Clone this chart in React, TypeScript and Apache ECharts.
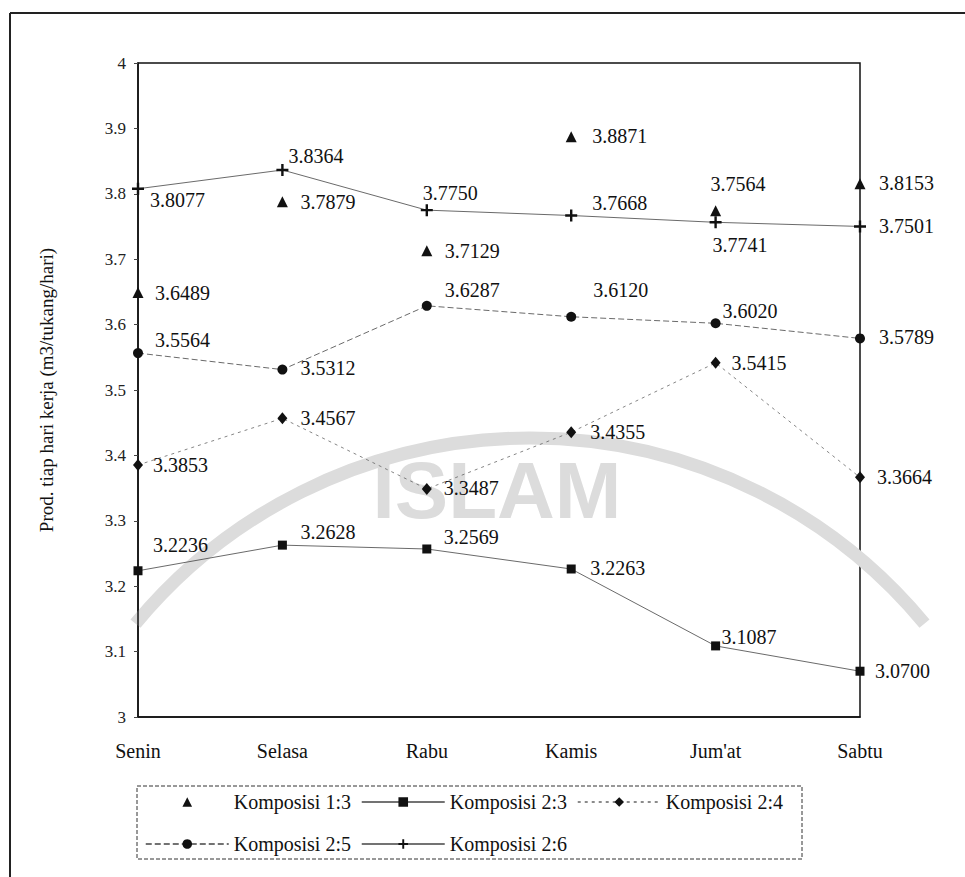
import React, { useEffect, useRef } from 'react';
import * as echarts from 'echarts';

const categories = ['Senin', 'Selasa', 'Rabu', 'Kamis', "Jum'at", 'Sabtu'];
const seriesNames = ['Komposisi 1:3', 'Komposisi 2:3', 'Komposisi 2:4', 'Komposisi 2:5', 'Komposisi 2:6'];
const komposisi13 = [3.6489, 3.7879, 3.7129, 3.8871, 3.7741, 3.8153];
const komposisi23 = [3.2236, 3.2628, 3.2569, 3.2263, 3.1087, 3.07];
const komposisi24 = [3.3853, 3.4567, 3.3487, 3.4355, 3.5415, 3.3664];
const komposisi25 = [3.5564, 3.5312, 3.6287, 3.612, 3.602, 3.5789];
const komposisi26 = [3.8077, 3.8364, 3.775, 3.7668, 3.7564, 3.7501];
const yMin = 3;
const yMax = 4;
const yInterval = 0.1;
const yTitle = 'Prod. tiap hari kerja (m3/tukang/hari)';

// label placement (layout only): [dx, dy] from the marker centre
const off13 = [[17, 0], [18, 0], [18, 0], [21, -1], [-3, 34], [19, -1]];
const off23 = [[15, -26], [18, -13], [17, -12], [19, -1], [6, -9], [15, 0]];
const off24 = [[15, 0], [18, 0], [17, -1], [19, 0], [16, 0], [17, 0]];
const off25 = [[17, -13], [18, -2], [18, -16], [22, -27], [7, -12], [19, -1]];
const off26 = [[12, 11], [6, -14], [-4, -17], [21, -13], [-5, -38], [19, 0]];

const FONT = "'Liberation Serif', serif";
const PLUS = 'path://M4,0H6V4H10V6H6V10H4V6H0V4H4Z';

function items(values: number[], offs: number[][]) {
  return values.map((v, i) => ({ value: v, label: { offset: offs[i] } }));
}

const baseLabel = {
  show: true,
  position: 'inside',
  align: 'left',
  verticalAlign: 'middle',
  fontFamily: FONT,
  fontSize: 20,
  fontWeight: 'normal',
  color: '#111',
  formatter: (p: any) => Number(p.value).toFixed(4),
};

export default function App() {
  const ref = useRef<HTMLDivElement>(null);
  useEffect(() => {
    if (!ref.current) return;
    const chart = echarts.init(ref.current, undefined, { renderer: 'svg' });
    const mk = (name: string, data: any[], symbol: string, size: any, line: any) => ({
      name,
      type: 'line',
      data,
      symbol,
      symbolSize: size,
      showAllSymbol: true,
      itemStyle: { color: '#111' },
      lineStyle: line,
      label: baseLabel,
      emphasis: { disabled: true },
      z: 3,
    });
    chart.setOption({
      animation: false,
      backgroundColor: '#fff',
      textStyle: { fontFamily: FONT },
      graphic: [
        {
          type: 'arc',
          z: 0,
          silent: true,
          shape: { cx: 530, cy: 950, r: 512, startAngle: Math.PI * 1.22, endAngle: Math.PI * 1.78, clockwise: true },
          style: { stroke: '#dcdcdc', lineWidth: 13, fill: null },
        },
        {
          type: 'text',
          z: 0,
          silent: true,
          x: 497,
          y: 490,
          style: {
            text: 'ISLAM',
            font: 'bold 80px sans-serif',
            fill: '#dcdcdc',
            align: 'center',
            verticalAlign: 'middle',
          },
        },
        {
          type: 'line',
          silent: true,
          shape: { x1: 10, y1: 13, x2: 965, y2: 13 },
          style: { stroke: '#222', lineWidth: 2 },
        },
        {
          type: 'line',
          silent: true,
          shape: { x1: 10, y1: 13, x2: 10, y2: 877 },
          style: { stroke: '#222', lineWidth: 2 },
        },
        {
          type: 'rect',
          silent: true,
          shape: { x: 137, y: 786, width: 665, height: 73 },
          style: { fill: null, stroke: '#333', lineWidth: 1, lineDash: [4, 2] },
        },
      ],
      grid: {
        left: 138,
        right: 105,
        top: 63,
        bottom: 160,
        show: true,
        borderColor: '#111',
        borderWidth: 1.5,
        containLabel: false,
      },
      legend: {
        left: 140,
        top: 781,
        width: 680,
        itemWidth: 83,
        itemHeight: 12,
        itemGap: 10,
        lineStyle: { width: 1.5 },
        textStyle: { fontFamily: FONT, fontSize: 20, color: '#111', lineHeight: 32 },
        data: [
          { name: seriesNames[0], lineStyle: { width: 0, opacity: 0 } },
          { name: seriesNames[1] },
          { name: seriesNames[2] },
          { name: seriesNames[3] },
          { name: seriesNames[4] },
        ],
      },
      xAxis: {
        type: 'category',
        data: categories,
        boundaryGap: false,
        axisLine: { lineStyle: { color: '#111', width: 1.5 } },
        axisTick: { show: false },
        axisLabel: { fontFamily: FONT, fontSize: 20, color: '#111', margin: 24 },
        splitLine: { show: false },
      },
      yAxis: {
        type: 'value',
        min: yMin,
        max: yMax,
        interval: yInterval,
        name: yTitle,
        nameLocation: 'middle',
        nameRotate: 90,
        nameGap: 82,
        nameTextStyle: { fontFamily: FONT, fontSize: 19, color: '#111' },
        axisLine: { show: true, lineStyle: { color: '#111', width: 1.5 } },
        axisTick: { show: true, inside: false, length: 4, lineStyle: { color: '#444' } },
        axisLabel: {
          fontFamily: FONT,
          fontSize: 17,
          color: '#222',
          margin: 12,
          formatter: (v: number) => String(Number(v.toFixed(1))),
        },
        splitLine: { show: false },
      },
      series: [
        mk(seriesNames[0], items(komposisi13, off13), 'triangle', 11, { width: 0, opacity: 0 }),
        mk(seriesNames[1], items(komposisi23, off23), 'rect', 9, { width: 0.8, color: '#444', type: 'solid' }),
        mk(seriesNames[2], items(komposisi24, off24), 'diamond', [10, 12], { width: 0.8, color: '#666', type: [3, 4] }),
        mk(seriesNames[3], items(komposisi25, off25), 'circle', 10, { width: 0.8, color: '#444', type: [6, 3] }),
        mk(seriesNames[4], items(komposisi26, off26), PLUS, 12, { width: 0.8, color: '#444', type: 'solid' }),
      ],
    });
    return () => chart.dispose();
  }, []);
  return (
    <div
      ref={ref}
      style={{ position: 'absolute', left: 0, top: 0, width: 965, height: 877, background: '#fff' }}
    />
  );
}
